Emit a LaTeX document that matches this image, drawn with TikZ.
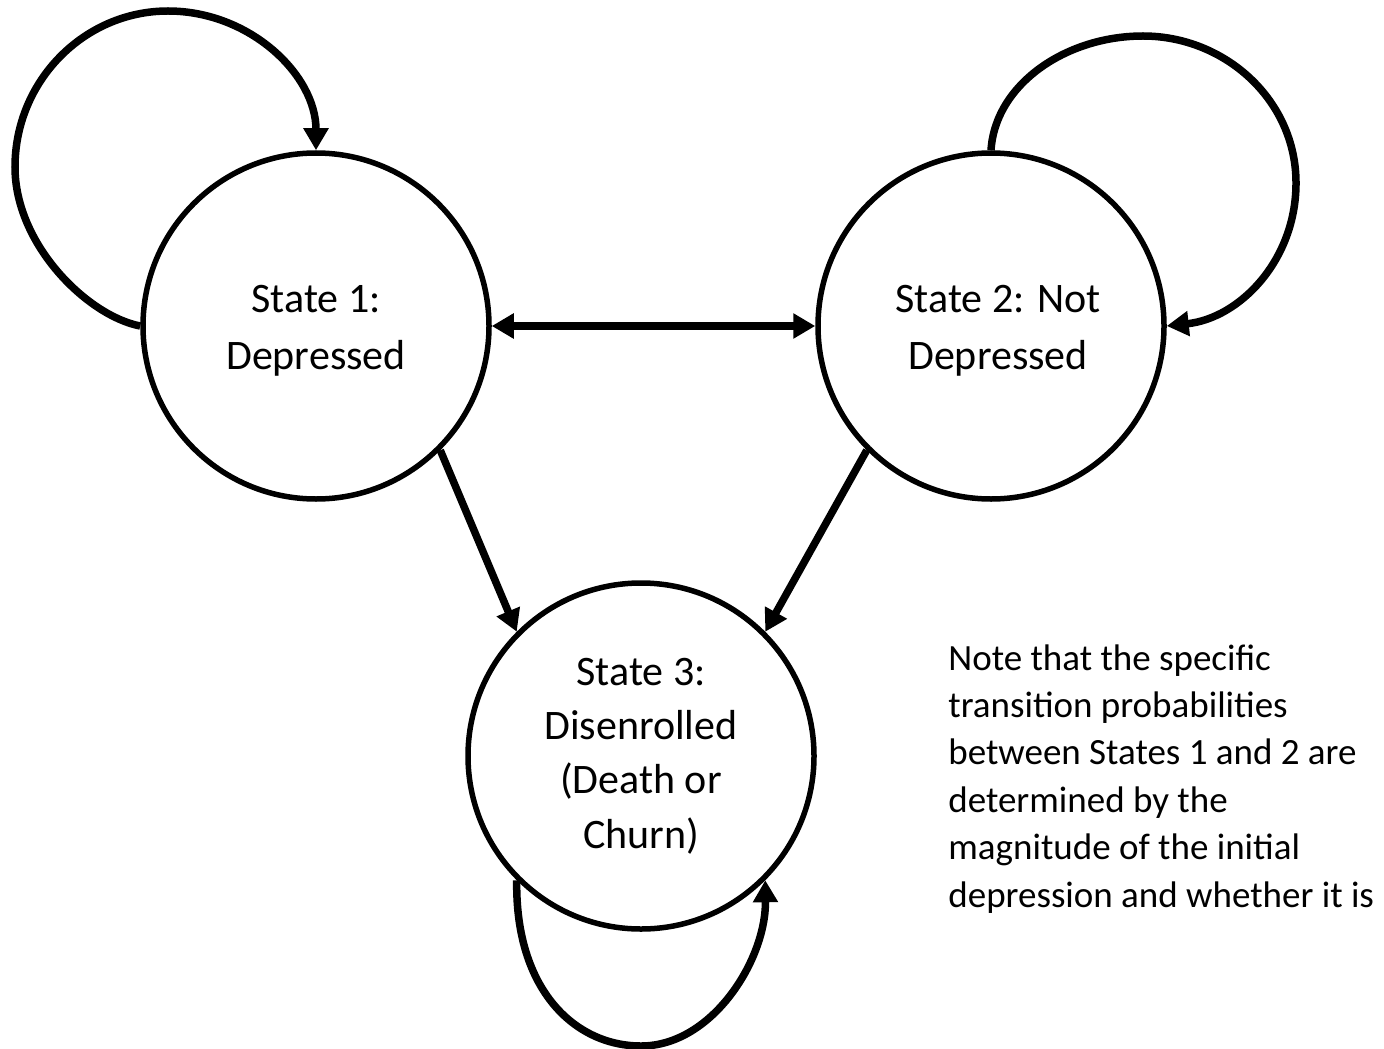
\documentclass[tikz,border=0pt]{standalone}
\usepackage{fontspec}
\setmainfont{Carlito}
\usetikzlibrary{arrows.meta}
\newcommand{\toppad}{\rule{0pt}{18.5pt}}
\begin{document}
\begin{tikzpicture}[x=0.5pt,y=-0.5pt,
  state/.style={circle, draw=black, line width=2.75pt, minimum size=173pt, inner sep=0pt, align=center, fill=white},
  stfont/.style={font=\fontsize{21}{28.5}\selectfont},
  arr/.style={line width=3.75pt, -{Triangle[length=11pt,width=12pt]}},
  darr/.style={line width=3.75pt, {Triangle[length=11pt,width=12pt]}-{Triangle[length=11pt,width=12pt]}},
  notefont/.style={font=\fontsize{18.5}{23.7}\selectfont}]
\useasboundingbox[fill=white] (0,0) rectangle (1384,1048);
\node[state, stfont] (s1) at (316,326) {\toppad State 1:\\Depressed};
\node[state, stfont] (s2) at (991,326) {\toppad\hspace*{7pt}State 2: Not\\\hspace*{7pt}Depressed};
\node[state, font=\fontsize{21}{27.2}\selectfont] (s3) at (641,756) {State 3:\\Disenrolled\\(Death or\\Churn)};
% self loops
\draw[arr] (s1.west) .. controls (88,316) and (15,245) .. (15,167)
  .. controls (15,81) and (84,11) .. (168,11)
  .. controls (250,11) and (316,75) .. (s1.north);
\draw[arr] (s2.north) .. controls (995,85) and (1065,36) .. (1143,36)
  .. controls (1225,36) and (1296,100) .. (1296,183)
  .. controls (1296,260) and (1240,318) .. (s2.east);
\draw[arr] (s3.south west) .. controls (515,990) and (575,1046) .. (641,1046)
  .. controls (712,1046) and (766,960) .. (s3.south east);
% transitions
\draw[darr] (s1.east) -- (s2.west);
\draw[arr] (s1.south east) -- (s3.north west);
\draw[arr] (s2.south west) -- (s3.north east);
% note
\node[notefont, anchor=north west, align=left, inner sep=0pt] (note) at (948,644)
  {Note that the specific\\transition probabilities\\between States 1 and 2 are\\determined by the\\magnitude of the initial\\depression and whether it is};
\end{tikzpicture}
\end{document}
